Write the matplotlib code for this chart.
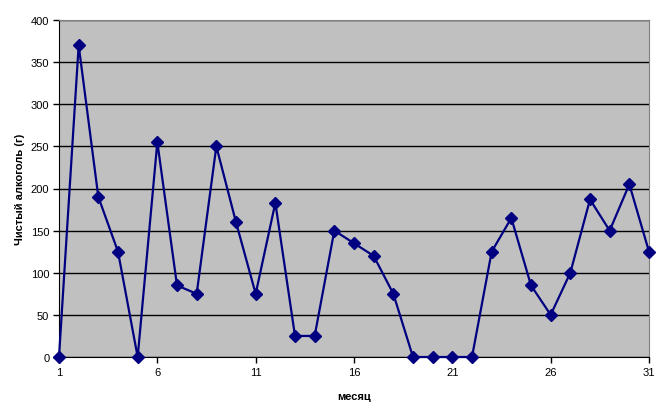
import numpy as np
import matplotlib.pyplot as plt

plt.rcParams['font.family'] = ['Liberation Sans', 'DejaVu Sans']

days = list(range(1, 32))
alcohol = [0, 370, 190, 125, 0, 255, 85, 75, 250, 160, 75, 183, 25, 25, 150,
           135, 120, 75, 0, 0, 0, 0, 125, 165, 85, 50, 100, 187, 150, 205, 125]
xticks = [1, 6, 11, 16, 21, 26, 31]
yticks = [0, 50, 100, 150, 200, 250, 300, 350, 400]

fig = plt.figure(figsize=(6.67, 4.10), dpi=100)
ax = fig.add_axes([59/667, 1 - 358/410, (649 - 59)/667, (358 - 21)/410])
ax.set_facecolor('#C0C0C0')

ax.plot(days, alcohol, color='#000080', lw=1.6, marker='D', ms=6.5,
        markerfacecolor='#000080', markeredgecolor='#000080', clip_on=False, zorder=3)

ax.set_xlim(1, 31)
ax.set_ylim(0, 400)
ax.set_xticks(xticks)
ax.set_yticks(yticks)
ax.yaxis.grid(True, color='black', lw=1)
ax.set_axisbelow(True)

for s in ['top', 'right']:
    ax.spines[s].set_color('#808080')
for s in ['left', 'bottom']:
    ax.spines[s].set_color('black')
ax.tick_params(labelsize=8, length=4, width=1, direction='out', pad=3)

ax.set_ylabel('Чистый алкоголь (г)', fontsize=8, fontweight='bold', labelpad=4)
ax.set_xlabel('месяц', fontsize=8, fontweight='bold', labelpad=10)

fig.savefig('out.png', dpi=100)
